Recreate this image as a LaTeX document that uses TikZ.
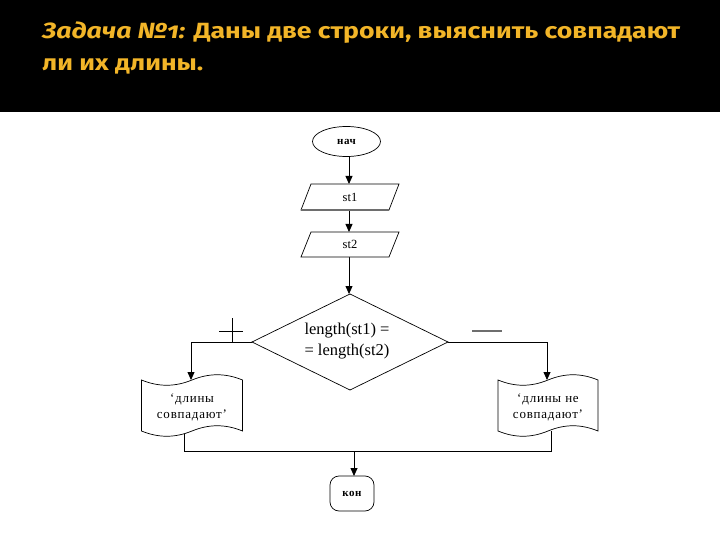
\documentclass[tikz,border=0pt]{standalone}
\usepackage{fontspec}
\setmainfont{Liberation Serif}
\newfontfamily\titlefont{Fira Sans}
\usetikzlibrary{arrows.meta,shapes.geometric,calc}
\definecolor{titlecol}{RGB}{242,181,40}
\definecolor{shadowgray}{RGB}{110,110,110}
\newlength\mytitlew
\newcommand\mytitleA{\itshape Задача №\addfontfeature{Numbers=OldStyle}1:\upshape{} Даны две строки, выяснить совпадают}
\newcommand\mytitlefont{\titlefont\bfseries\fontsize{22}{26}\selectfont}
\tikzset{
  conn/.style={draw=black, line width=0.8pt},
  arr/.style={conn, -{Triangle[length=8pt,width=7pt]}},
  boxref/.style={draw=none, inner sep=0pt, outer sep=0pt},
  shapeline/.style={draw=black, line width=0.7pt, fill=white},
  flowtxt/.style={font=\fontsize{12.5}{14}\selectfont, align=center},
  doctxt/.style={font=\fontsize{13}{16}\selectfont\addfontfeature{LetterSpace=6}, align=center},
  termtxt/.style={font=\fontsize{11}{13}\selectfont\bfseries\addfontfeature{LetterSpace=5}},
  titletxt/.style={anchor=base west, inner sep=0pt, text=titlecol, font=\mytitlefont},
}
\begin{document}
\settowidth{\mytitlew}{\mytitlefont\mytitleA}%
\pgfmathsetmacro\tsc{638/\mytitlew}%
\begin{tikzpicture}[x=1pt,y=-1pt]
\useasboundingbox (0,0) rectangle (720,540);
\fill[white] (0,0) rectangle (720,540);
\fill[black] (0,0) rectangle (720,112);
% title (scaled horizontally to the reference line width)
\node[titletxt] (title1) at (42,39) {\scalebox{\tsc}[1]{\mytitleA}};
\node[titletxt] (title2) at (42,71) {\scalebox{\tsc}[1]{ли их длины.}};
% reference boxes
\node[boxref, minimum width=98pt, minimum height=26pt] (st1) at (350,197) {};
\node[boxref, minimum width=98pt, minimum height=25pt] (st2) at (350,244.5) {};
\node[boxref, minimum width=196pt, minimum height=96pt] (cond) at (350,342) {};
\node[boxref, minimum width=101pt, minimum height=51pt] (yes) at (192,405.5) {};
\node[boxref, minimum width=100pt, minimum height=51pt] (no) at (548,405.5) {};
\coordinate (lj) at (184,451);
\coordinate (rj) at (551,451);
\coordinate (mj) at (354,451);
% connectors
\draw[arr] (349,157) -- (349,184);
\draw[arr] (349,210) -- (st2.north -| 349,0);
\draw[arr] (st2.south -| 349,0) -- (cond.north -| 349,0);
\draw[conn] (cond.west) -| ($(yes.north)+(-1,-12)$);
\draw[arr] ($(yes.north)+(-1,-12)$) -- ($(yes.north)+(-1,0)$);
\draw[conn] (cond.east) -| ($(no.north)+(-1,-12)$);
\draw[arr] ($(no.north)+(-1,-12)$) -- ($(no.north)+(-1,0)$);
\draw[conn] (lj |- yes.south) -- (lj) -- (rj) -- (rj |- no.south);
% shapes
\node[ellipse, shapeline, minimum width=68pt, minimum height=30pt, inner sep=0pt, termtxt] (start) at (346.5,141.5) {нач};
\draw[shapeline] ($(st1.north west)+(10,0)$) -- (st1.north east) -- ($(st1.south east)+(-10,0)$) -- (st1.south west) -- cycle;
\draw[draw=shadowgray, line width=1.5pt] ($(st1.south east)+(-10,0)$) -- (st1.south west);
\node[flowtxt] at (st1) {st1};
\draw[shapeline] ($(st2.north west)+(10,0)$) -- (st2.north east) -- ($(st2.south east)+(-10,0)$) -- (st2.south west) -- cycle;
\node[flowtxt] at (st2) {st2};
\draw[shapeline] (cond.north) -- (cond.east) -- (cond.south) -- (cond.west) -- cycle;
\node[font=\fontsize{16.5}{21}\selectfont, align=left] at ($(cond)+(-3,-1)$) {length(st1) =\\= length(st2)};
% documents
\foreach \d in {yes,no}{
  \draw[shapeline] (\d.north west)
    .. controls ($(\d.north west)+(17,7)$) and ($(\d.north)+(-17,7)$) .. (\d.north)
    .. controls ($(\d.north)+(17,-7)$) and ($(\d.north east)+(-17,-7)$) .. (\d.north east)
    -- (\d.south east)
    .. controls ($(\d.south east)+(-17,-7)$) and ($(\d.south)+(17,-7)$) .. (\d.south)
    .. controls ($(\d.south)+(-17,7)$) and ($(\d.south west)+(17,7)$) .. (\d.south west)
    -- cycle;
}
\node[doctxt] at ($(yes)+(0,2)$) {‘длины\\совпадают’};
\node[doctxt] at ($(no)+(0,2)$) {‘длины не\\совпадают’};
% end
\draw[arr] (mj) -- (354,476);
\node[shapeline, rounded corners=9pt, minimum width=44pt, minimum height=35pt, inner sep=0pt, termtxt] (fin) at (352,493.5) {кон};
% plus / minus marks
\draw[black, line width=0.8pt] (219,331) -- (243,331) (232,318) -- (232,342);
\draw[shadowgray, line width=1.2pt] (472,331) -- (502,331);
\end{tikzpicture}
\end{document}
